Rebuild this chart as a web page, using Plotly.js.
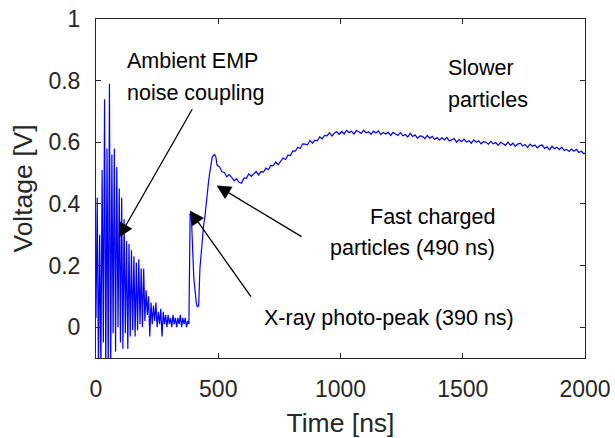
<!DOCTYPE html>
<html>
<head>
<meta charset="utf-8">
<script src="https://cdn.plot.ly/plotly-3.0.1.min.js"></script>
<style>
  html, body { margin: 0; padding: 0; background: #fff; }
  #chart { width: 615px; height: 438px; }
</style>
</head>
<body>
<div id="chart"></div>
<script>
// ---- data ----
// Fast segment: 0 .. 495 ns, sampled every 5 ns
const fastStartNs = 0;
const fastStepNs = 5;
const fastVoltage = [
  0.03, 0.42, -0.13, 0.30, -0.14, 0.51, -0.05, 0.74, -0.15, 0.58,
  -0.14, 0.79, -0.15, 0.56, -0.02, 0.58, -0.08, 0.52, 0.00, 0.45,
  -0.05, 0.42, -0.07, 0.35, -0.02, 0.28, -0.07, 0.27, -0.03, 0.25,
  -0.01, 0.23, -0.03, 0.21, -0.01, 0.22, 0.01, 0.19, 0.00, 0.19,
  0.02, 0.12, 0.04, 0.10, -0.03, 0.08, 0.01, 0.07, 0.02, 0.08,
  0.00, 0.05, 0.01, 0.06, -0.03, 0.05, 0.01, 0.04, 0.00, 0.04,
  0.01, 0.03, 0.00, 0.04, 0.01, 0.03, 0.00, 0.03, 0.01, 0.04,
  0.00, 0.03, 0.01, 0.03, 0.00, 0.02, 0.01, 0.37, 0.36, 0.25,
  0.16, 0.12, 0.08, 0.065, 0.07, 0.19, 0.24, 0.28, 0.33, 0.355,
  0.40, 0.44, 0.47, 0.50, 0.53, 0.55, 0.557, 0.56, 0.553, 0.525
];
// Slow segment: 495 .. 2005 ns, sampled every 10 ns
const slowStartNs = 495;
const slowStepNs = 10;
const slowVoltage = [
  0.525,
  0.521, 0.504, 0.502, 0.488, 0.495, 0.486, 0.475, 0.482, 0.470, 0.467,
  0.484, 0.483, 0.498, 0.489, 0.498, 0.505, 0.494, 0.505, 0.503, 0.516,
  0.511, 0.525, 0.524, 0.536, 0.527, 0.539, 0.549, 0.544, 0.558, 0.557,
  0.572, 0.571, 0.584, 0.580, 0.595, 0.594, 0.592, 0.606, 0.597, 0.607,
  0.605, 0.618, 0.611, 0.622, 0.621, 0.631, 0.620, 0.630, 0.634, 0.626,
  0.635, 0.627, 0.639, 0.631, 0.636, 0.627, 0.638, 0.634, 0.629, 0.639,
  0.630, 0.634, 0.626, 0.636, 0.630, 0.637, 0.625, 0.632, 0.627, 0.632,
  0.622, 0.632, 0.628, 0.622, 0.631, 0.621, 0.625, 0.617, 0.629, 0.619,
  0.624, 0.613, 0.621, 0.619, 0.612, 0.622, 0.613, 0.619, 0.609, 0.615,
  0.607, 0.615, 0.608, 0.616, 0.604, 0.609, 0.612, 0.600, 0.609, 0.602,
  0.610, 0.601, 0.605, 0.597, 0.608, 0.600, 0.605, 0.595, 0.602, 0.600,
  0.594, 0.603, 0.595, 0.599, 0.590, 0.600, 0.596, 0.590, 0.601, 0.590,
  0.597, 0.587, 0.594, 0.597, 0.588, 0.593, 0.583, 0.594, 0.587, 0.591,
  0.582, 0.589, 0.591, 0.580, 0.585, 0.576, 0.587, 0.579, 0.584, 0.576,
  0.584, 0.573, 0.577, 0.570, 0.578, 0.571, 0.577, 0.567, 0.571, 0.563,
  0.566
];
const xTickVals = [0, 500, 1000, 1500, 2000];
const xTickText = ['0', '500', '1000', '1500', '2000'];
const yTickVals = [0, 0.2, 0.4, 0.6, 0.8, 1];
const yTickText = ['0', '0.2', '0.4', '0.6', '0.8', '1'];
const xTitle = 'Time [ns]';
const yTitle = 'Voltage [V]';
const noteTexts = ['Ambient EMP', 'noise coupling', 'Slower', 'particles',
                   'Fast charged', 'particles (490 ns)', 'X-ray photo-peak (390 ns)'];

// ---- chart ----
const FONT = '"Liberation Sans", Arial, Helvetica, sans-serif';
const AX = '#262626';
const lineStyle = { color: '#0000ff', width: 1.2 };

const traces = [
  { type: 'scatter', mode: 'lines', x0: fastStartNs, dx: fastStepNs, y: fastVoltage,
    line: lineStyle, hoverinfo: 'skip', showlegend: false },
  { type: 'scatter', mode: 'lines', x0: slowStartNs, dx: slowStepNs, y: slowVoltage,
    line: lineStyle, hoverinfo: 'skip', showlegend: false }
];

function note(text, x, y, xanchor) {
  return { text: text, x: x, y: y, xref: 'x', yref: 'y', xanchor: xanchor, yanchor: 'middle',
           showarrow: false, font: { family: FONT, size: 21.5, color: '#000' } };
}
function arrow(tipX, tipY, tailX, tailY) {
  return { text: '', x: tipX, y: tipY, ax: tailX, ay: tailY, xref: 'x', yref: 'y',
           axref: 'x', ayref: 'y', showarrow: true, arrowhead: 2, arrowsize: 2.2,
           arrowwidth: 1.3, arrowcolor: '#000', standoff: 0 };
}

const layout = {
  width: 615, height: 438,
  margin: { l: 96, r: 30, t: 19, b: 80, pad: 0 },
  paper_bgcolor: '#fff', plot_bgcolor: '#fff',
  font: { family: FONT, color: AX },
  xaxis: {
    range: [0, 2000], tickmode: 'array', tickvals: xTickVals, ticktext: xTickText,
    ticks: 'inside', ticklen: 5, tickwidth: 1, tickcolor: AX,
    showline: true, linecolor: AX, linewidth: 1, mirror: 'ticks',
    showgrid: false, zeroline: false, ticklabelstandoff: 10,
    tickfont: { family: FONT, size: 23, color: AX },
    title: { text: xTitle, font: { family: FONT, size: 26.5, color: AX }, standoff: 13 }
  },
  yaxis: {
    range: [-0.1, 1], tickmode: 'array', tickvals: yTickVals, ticktext: yTickText,
    ticks: 'inside', ticklen: 5, tickwidth: 1, tickcolor: AX,
    showline: true, linecolor: AX, linewidth: 1, mirror: 'ticks',
    showgrid: false, zeroline: false, ticklabelstandoff: 10,
    tickfont: { family: FONT, size: 23, color: AX },
    title: { text: yTitle, font: { family: FONT, size: 26.5, color: AX }, standoff: 8 }
  },
  annotations: [
    note(noteTexts[0], 119, 0.864, 'left'),
    note(noteTexts[1], 119, 0.760, 'left'),
    note(noteTexts[2], 1432, 0.841, 'left'),
    note(noteTexts[3], 1432, 0.738, 'left'),
    note(noteTexts[4], 1640, 0.356, 'right'),
    note(noteTexts[5], 1640, 0.256, 'right'),
    note(noteTexts[6], 680, 0.029, 'left'),
    arrow(94, 0.291, 397, 0.712),
    arrow(493, 0.46, 847, 0.291),
    arrow(384, 0.379, 638, 0.094)
  ]
};

Plotly.newPlot('chart', traces, layout, { staticPlot: true, displayModeBar: false });
</script>
</body>
</html>
